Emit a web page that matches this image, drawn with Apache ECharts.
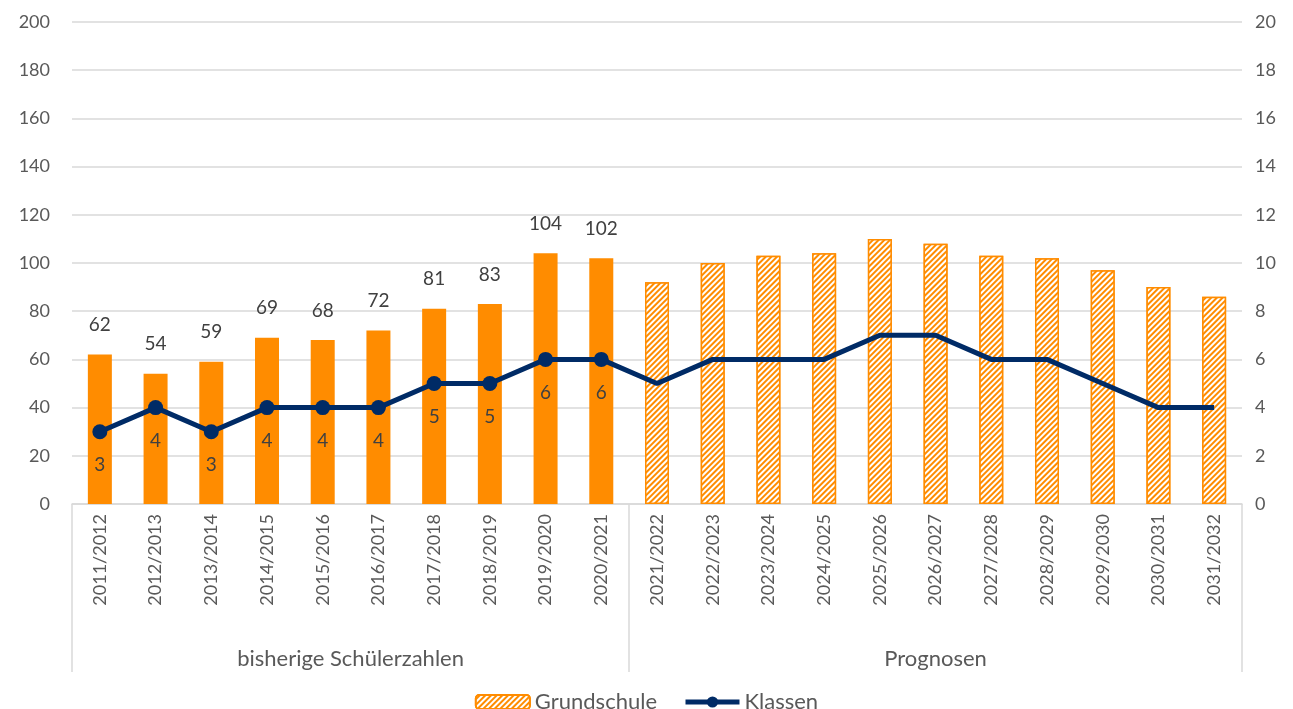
<!DOCTYPE html>
<html>
<head>
<meta charset="utf-8">
<script src="https://cdn.jsdelivr.net/npm/echarts@6/dist/echarts.min.js"></script>
<style>
  html, body { margin: 0; padding: 0; background: #fff; }
  #main { width: 1293px; height: 709px; }
</style>
</head>
<body>
<div id="main"></div>
<script>
var jahre = ['2011/2012','2012/2013','2013/2014','2014/2015','2015/2016','2016/2017','2017/2018','2018/2019','2019/2020','2020/2021',
  '2021/2022','2022/2023','2023/2024','2024/2025','2025/2026','2026/2027','2027/2028','2028/2029','2029/2030','2030/2031','2031/2032'];
var schueler = [62,54,59,69,68,72,81,83,104,102];
var prognoseSchueler = [92,100,103,104,110,108,103,102,97,90,86];
var klassen = [3,4,3,4,4,4,5,5,6,6];
var prognoseKlassen = [5,6,6,6,7,7,6,6,5,4,4];
var gruppen = ['bisherige Schülerzahlen','Prognosen'];

var orange = '#FF8C00';
var navy = '#002B66';
var textColor = '#595959';
var font = 'Lato, "Open Sans", sans-serif';

var nHist = schueler.length;
var barHist = jahre.map(function (j, i) { return i < nHist ? schueler[i] : null; });
var barProg = jahre.map(function (j, i) { return i < nHist ? null : prognoseSchueler[i - nHist]; });
var lineData = klassen.map(function (v) { return v; }).concat(prognoseKlassen.map(function (v) {
  return { value: v, symbol: 'none', label: { show: false } };
}));
// Gruppengrenzen und -mitten auf der Hilfsachse (Einheit = Kategorienbreite)
var grenzen = [0, nHist, jahre.length];
var mitten = [nHist / 2, nHist + (jahre.length - nHist) / 2];

var myChart = echarts.init(document.getElementById('main'));
var option = {
  animation: false,
  textStyle: { fontFamily: font },
  grid: { left: 72, right: 51, top: 22, bottom: 205 },
  legend: {
    top: 686,
    left: 'center',
    itemWidth: 54,
    itemHeight: 14,
    itemGap: 26,
    itemStyle: {},
    lineStyle: { width: 5 },
    textStyle: { fontSize: 22, color: textColor, fontFamily: font },
    data: ['Grundschule', 'Klassen']
  },
  xAxis: [{
    type: 'category',
    data: jahre,
    axisLine: { lineStyle: { color: '#d9d9d9', width: 1.5 } },
    axisTick: { show: false },
    axisLabel: { rotate: 90, fontSize: 18, color: textColor, margin: 10, interval: 0 }
  }, {
    type: 'value',
    position: 'bottom',
    min: 0,
    max: jahre.length,
    axisLine: { show: false },
    splitLine: { show: false },
    axisTick: {
      show: true, inside: false, length: 168,
      customValues: grenzen,
      lineStyle: { color: '#d9d9d9', width: 1.5 }
    },
    axisLabel: {
      show: true, margin: 144, fontSize: 22, color: textColor,
      customValues: mitten,
      formatter: function (v) { return v < nHist ? gruppen[0] : gruppen[1]; }
    }
  }],
  yAxis: [{
    type: 'value',
    min: 0, max: 200, interval: 20,
    axisLine: { show: false },
    axisTick: { show: false },
    axisLabel: { fontSize: 18, color: textColor, margin: 22 },
    splitLine: { lineStyle: { color: '#d9d9d9', width: 1.5 } }
  }, {
    type: 'value',
    min: 0, max: 20, interval: 2,
    axisLine: { show: false },
    axisTick: { show: false },
    axisLabel: { fontSize: 18, color: textColor, margin: 13 },
    splitLine: { show: false }
  }],
  series: [{
    name: 'Grundschule',
    type: 'bar',
    stack: 'g',
    barWidth: 24,
    data: barProg,
    itemStyle: {
      color: orange,
      borderColor: orange,
      borderWidth: 1.5,
      decal: {
        symbol: 'rect',
        symbolSize: 1,
        color: '#ffffff',
        dashArrayX: [1, 0],
        dashArrayY: [2, 2],
        rotation: -Math.PI / 4
      }
    }
  }, {
    name: 'Grundschule',
    type: 'bar',
    stack: 'g',
    barWidth: 24,
    data: barHist,
    itemStyle: { color: orange },
    label: {
      show: true, position: 'top', distance: 20,
      fontSize: 19, color: '#404040'
    }
  }, {
    name: 'Klassen',
    type: 'line',
    yAxisIndex: 1,
    data: lineData,
    symbol: 'circle',
    symbolSize: 15,
    z: 5,
    lineStyle: { color: navy, width: 5 },
    itemStyle: { color: navy },
    label: {
      show: true, position: 'bottom', distance: 16,
      fontSize: 19, color: '#404040'
    }
  }]
};
myChart.setOption(option);
</script>
</body>
</html>
